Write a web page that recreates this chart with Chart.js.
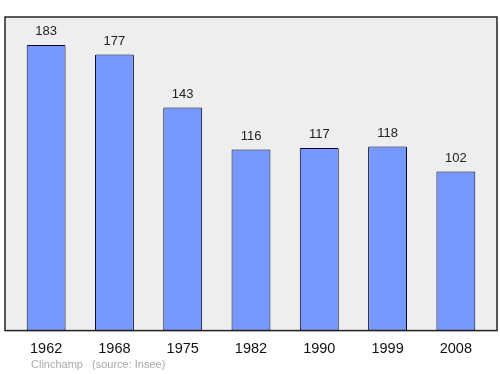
<!DOCTYPE html>
<html lang="fr">
<head>
    <meta charset="UTF-8">
    <title>Clinchamp population</title>
    <script src="https://cdn.jsdelivr.net/npm/chart.js"></script>
    <style>
        body { margin: 0; background: #ffffff; }
        #wrap { width: 500px; height: 374px; }
    </style>
</head>
<body>
    <div id="wrap"><canvas id="popChart" width="500" height="374"></canvas></div>
    <script>
        const years = ['1962', '1968', '1975', '1982', '1990', '1999', '2008'];
        const population = [183, 177, 143, 116, 117, 118, 102];
        const commune = 'Clinchamp';
        const sourceText = '(source: Insee)';

        const FONT = "'Liberation Sans', Arial, sans-serif";

        // grey box behind the bars, a little wider than the chart area
        const frame = {
            id: 'frame',
            beforeDraw(chart) {
                const { ctx, chartArea: a } = chart;
                ctx.save();
                ctx.fillStyle = '#eeeeee';
                ctx.fillRect(a.left - 7, a.top, a.right - a.left + 14, a.bottom - a.top);
                ctx.strokeStyle = '#222222';
                ctx.lineWidth = 1.5;
                ctx.strokeRect(a.left - 7, a.top, a.right - a.left + 14, a.bottom - a.top);
                ctx.restore();
            },
            afterDatasetsDraw(chart) {
                const { ctx } = chart;
                const meta = chart.getDatasetMeta(0);
                ctx.save();
                ctx.font = '13px ' + FONT;
                ctx.fillStyle = '#222222';
                ctx.textAlign = 'center';
                ctx.textBaseline = 'bottom';
                meta.data.forEach((bar, i) => {
                    ctx.fillText(String(population[i]), bar.x, bar.y - 7);
                });
                ctx.font = '11px ' + FONT;
                ctx.fillStyle = '#aaaaaa';
                ctx.textAlign = 'left';
                ctx.textBaseline = 'middle';
                ctx.fillText(commune, 31, 365);
                ctx.fillText(sourceText, 92, 365);
                ctx.restore();
            }
        };

        new Chart(document.getElementById('popChart'), {
            type: 'bar',
            data: {
                labels: years,
                datasets: [{
                    data: population,
                    backgroundColor: '#7799ff',
                    borderColor: '#000022',
                    borderWidth: 1,
                    borderSkipped: false,
                    borderRadius: 1,
                    categoryPercentage: 1,
                    barPercentage: 0.57
                }]
            },
            options: {
                responsive: false,
                animation: false,
                layout: { padding: { left: 12, right: 10, top: 17, bottom: 6 } },
                plugins: { legend: { display: false }, tooltip: { enabled: false } },
                scales: {
                    x: {
                        grid: { display: false, drawTicks: false },
                        border: { display: false },
                        ticks: { color: '#111111', font: { family: FONT, size: 14.5 }, padding: 10 }
                    },
                    y: {
                        display: false,
                        min: 0,
                        max: 201
                    }
                }
            },
            plugins: [frame]
        });
    </script>
</body>
</html>
